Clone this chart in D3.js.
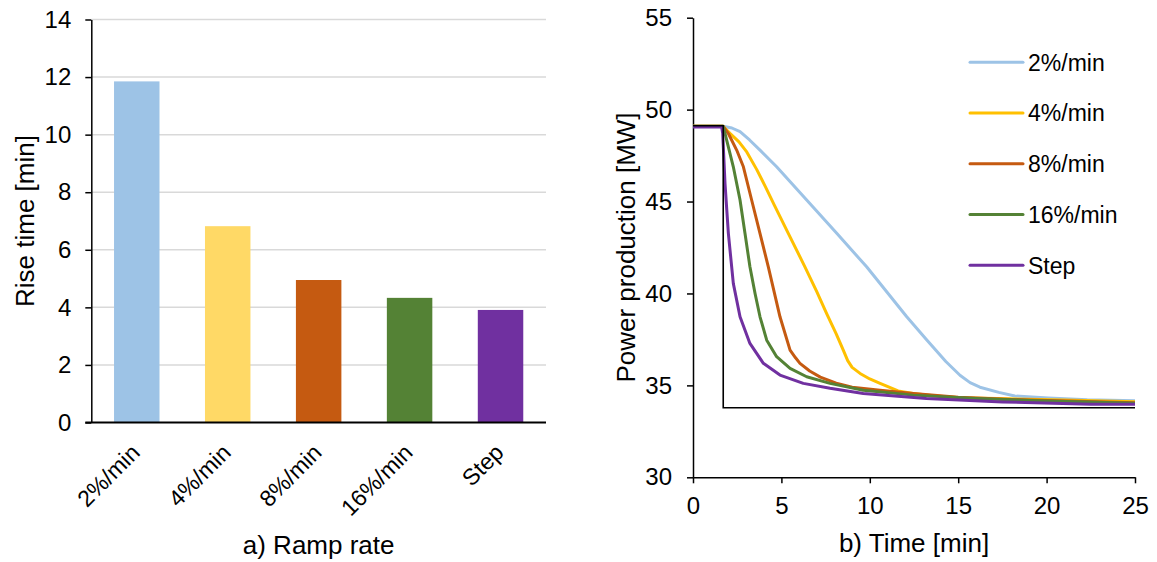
<!DOCTYPE html>
<html><head><meta charset="utf-8">
<script src="https://cdn.jsdelivr.net/npm/d3@7"></script>
<style>
body{margin:0;background:#fff;}
svg{font-family:"Liberation Sans",Arial,sans-serif;}
</style></head><body>
<svg id="c" width="1157" height="562"></svg>
<script>
// ---- data: panel a (bars)
const categories = ["2%/min", "4%/min", "8%/min", "16%/min", "Step"];
const riseTimes = [11.85, 6.82, 4.95, 4.33, 3.91];
const barColors = ["#9DC3E6", "#FFD966", "#C55A11", "#548235", "#7030A0"];
const riseTicks = [0, 2, 4, 6, 8, 10, 12, 14];

// ---- data: panel b (lines)
const seriesNames = ["2%/min", "4%/min", "8%/min", "16%/min", "Step"];
const lineColors = ["#9DC3E6", "#FFC000", "#C55A11", "#548235", "#7030A0"];
const t2 = [0, 1.7, 2.2, 2.66, 3.2, 3.79, 4.73, 6.43, 8.13, 9.82, 12.09, 13.2, 14.3, 15.1, 15.67, 16.23, 17.3, 18.2, 20.1, 22.3, 25];
const p2 = [49.1, 49.1, 49.0, 48.8, 48.35, 47.8, 46.89, 45.08, 43.27, 41.45, 38.73, 37.5, 36.3, 35.55, 35.15, 34.9, 34.62, 34.42, 34.32, 34.22, 34.16];
const t4 = [0, 1.7, 2.09, 2.6, 3.04, 3.6, 4.1, 4.6, 5.39, 6.33, 7.0, 7.56, 8.1, 8.5, 8.75, 9.0, 9.45, 10.0, 10.58, 11.6, 12.46, 13.6, 15.1, 17.2, 21, 25];
const p4 = [49.1, 49.1, 48.71, 48.25, 47.7, 46.75, 45.8, 44.8, 43.27, 41.45, 40.1, 38.9, 37.8, 36.92, 36.35, 35.98, 35.65, 35.35, 35.11, 34.7, 34.56, 34.43, 34.33, 34.29, 34.2, 34.11];
const t8 = [0, 1.7, 2.0, 2.47, 2.85, 3.32, 4.26, 4.92, 5.49, 5.8, 6.05, 6.6, 7.2, 8.1, 9.0, 10.58, 12.46, 15, 19, 25];
const p8 = [49.1, 49.1, 48.7, 47.8, 46.89, 45.07, 41.45, 38.73, 36.92, 36.5, 36.2, 35.78, 35.45, 35.12, 34.9, 34.74, 34.56, 34.35, 34.2, 34.05];
const t16 = [0, 1.7, 1.81, 2.28, 2.66, 2.94, 3.22, 3.51, 3.79, 4.17, 4.73, 5.49, 6.43, 7.75, 9.63, 12.46, 16, 20, 25];
const p16 = [49.1, 49.1, 48.71, 46.89, 45.08, 43.27, 41.45, 40.0, 38.73, 37.46, 36.56, 35.92, 35.47, 35.11, 34.74, 34.47, 34.28, 34.15, 34.03];
const tStep = [0, 1.62, 1.68, 1.81, 2.0, 2.28, 2.66, 3.22, 3.98, 4.92, 6.24, 7.75, 9.63, 13.2, 17.5, 22.5, 25];
const pStep = [49.05, 49.05, 48.71, 45.99, 43.27, 40.55, 38.73, 37.28, 36.2, 35.56, 35.11, 34.84, 34.56, 34.29, 34.1, 33.97, 33.97];
const refT = [0, 1.71, 1.71, 25];
const refP = [49.12, 49.12, 33.78, 33.78];
const timeTicks = [0, 5, 10, 15, 20, 25];
const powerTicks = [30, 35, 40, 45, 50, 55];

const seriesT = [t2, t4, t8, t16, tStep];
const seriesP = [p2, p4, p8, p16, pStep];

const svg = d3.select("#c");
const TICK_FONT = 24, CAT_FONT = 23, TITLE_FONT = 26, LEGEND_FONT = 23;
const FONT = "Liberation Sans, Arial, sans-serif";

// ================= Panel a =================
const xa = d3.scaleBand().domain(categories).range([91.3, 546]).paddingInner(0.5).paddingOuter(0.25);
const ya = d3.scaleLinear().domain([0, 14]).range([422.5, 19.5]);

const ga = svg.append("g");
ga.append("g").selectAll("line").data(riseTicks.filter(d => d > 0)).join("line")
  .attr("x1", 91.3).attr("x2", 546)
  .attr("y1", d => ya(d)).attr("y2", d => ya(d))
  .attr("stroke", "#d9d9d9").attr("stroke-width", 1.5);
ga.append("g").selectAll("rect").data(categories).join("rect")
  .attr("x", d => xa(d)).attr("width", xa.bandwidth())
  .attr("y", (d, i) => ya(riseTimes[i]))
  .attr("height", (d, i) => ya(0) - ya(riseTimes[i]))
  .attr("fill", (d, i) => barColors[i]);
const yAxisA = ga.append("g").attr("transform", "translate(91.3,0)")
  .call(d3.axisLeft(ya).tickValues(riseTicks).tickSize(6).tickSizeOuter(0).tickPadding(14));
yAxisA.select(".domain").attr("stroke", "#000").attr("stroke-width", 1.5);
yAxisA.selectAll(".tick line").attr("stroke", "#000").attr("stroke-width", 1.5);
yAxisA.selectAll(".tick text").attr("font-size", TICK_FONT).attr("fill", "#000").attr("font-family", FONT);
ga.append("line").attr("x1", 85.3).attr("x2", 546).attr("y1", ya(0)).attr("y2", ya(0))
  .attr("stroke", "#000").attr("stroke-width", 2);
ga.append("g").selectAll("text").data(categories).join("text")
  .attr("transform", d => `translate(${xa(d) + xa.bandwidth() / 2 + 4.5},${454}) rotate(-45)`)
  .attr("text-anchor", "end").attr("font-size", CAT_FONT).attr("fill", "#000").attr("font-family", FONT)
  .text(d => d);
ga.append("text").attr("x", (91.3 + 546) / 2).attr("y", 554).attr("text-anchor", "middle")
  .attr("font-size", TITLE_FONT).attr("fill", "#000").text("a) Ramp rate");
ga.append("text").attr("transform", `translate(34,${(ya(0) + ya(14)) / 2}) rotate(-90)`)
  .attr("text-anchor", "middle").attr("font-size", TITLE_FONT).attr("fill", "#000").text("Rise time [min]");

// ================= Panel b =================
const xb = d3.scaleLinear().domain([0, 25]).range([693, 1135]);
const yb = d3.scaleLinear().domain([30, 55]).range([477.3, 17.7]);
const gb = svg.append("g");

const xAxisB = gb.append("g").attr("transform", `translate(0,${yb(30)})`)
  .call(d3.axisBottom(xb).tickValues(timeTicks).tickSize(6).tickSizeOuter(0).tickPadding(14));
const yAxisB = gb.append("g").attr("transform", `translate(${xb(0)},0)`)
  .call(d3.axisLeft(yb).tickValues(powerTicks).tickSize(6).tickSizeOuter(0).tickPadding(15));
[xAxisB, yAxisB].forEach(ax => {
  ax.select(".domain").attr("stroke", "#000").attr("stroke-width", 1.5);
  ax.selectAll(".tick line").attr("stroke", "#000").attr("stroke-width", 1.5);
  ax.selectAll(".tick text").attr("font-size", TICK_FONT).attr("fill", "#000").attr("font-family", FONT);
});

const line = d3.line().x(d => xb(d[0])).y(d => yb(d[1]));
seriesNames.forEach((name, i) => {
  const pts = seriesT[i].map((t, j) => [t, seriesP[i][j]]);
  gb.append("path").datum(pts).attr("d", line)
    .attr("fill", "none").attr("stroke", lineColors[i]).attr("stroke-width", 3)
    .attr("stroke-linejoin", "round");
});
gb.append("path").datum(refT.map((t, j) => [t, refP[j]])).attr("d", line)
  .attr("fill", "none").attr("stroke", "#000").attr("stroke-width", 1.6);

const lg = gb.append("g");
seriesNames.forEach((name, i) => {
  const y = 62.3 + i * 50.75;
  lg.append("line").attr("x1", 970).attr("x2", 1023).attr("y1", y).attr("y2", y)
    .attr("stroke", lineColors[i]).attr("stroke-width", 3).attr("stroke-linecap", "round");
  lg.append("text").attr("x", 1028).attr("y", y).attr("dy", "0.36em")
    .attr("font-size", LEGEND_FONT).attr("fill", "#000").text(name);
});

gb.append("text").attr("x", (693 + 1135) / 2).attr("y", 552).attr("text-anchor", "middle")
  .attr("font-size", TITLE_FONT).attr("fill", "#000").text("b) Time [min]");
gb.append("text").attr("transform", `translate(635,${(yb(30) + yb(55)) / 2}) rotate(-90)`)
  .attr("text-anchor", "middle").attr("font-size", TITLE_FONT).attr("fill", "#000").text("Power production [MW]");
</script>
</body></html>
